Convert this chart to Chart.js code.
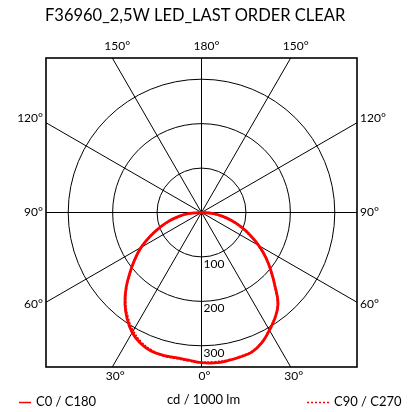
<!DOCTYPE html>
<html>
<head>
<meta charset="utf-8">
<script src="https://cdn.jsdelivr.net/npm/chart.js@4"></script>
<style>
  html, body { margin: 0; padding: 0; background: #fff; }
  canvas { display: block; }
</style>
</head>
<body>
<canvas id="polar" width="415" height="412"></canvas>
<script>
// gamma angles (deg from nadir), intensities in cd / 1000 lm
const gammas = [0, 5, 10, 15, 20, 25, 30, 35, 40, 45, 50, 55, 60, 65, 70, 75, 80, 85, 90];
const c0   = [340, 340, 339, 337, 334, 323, 306, 289, 268, 234, 204, 177, 149, 121, 95, 70, 47, 24, 0];
const c180 = [338, 334, 332, 333, 332, 325, 312, 292, 268, 240, 210, 183, 157, 128, 101, 77, 53, 30, 0];
const c90  = [339, 338, 338, 336, 333, 322, 305, 288, 267, 233, 203, 176, 148, 120, 94, 69, 46, 23, 0];
const c270 = [338, 335, 333, 334, 330, 322, 308, 289, 266, 239, 209, 182, 156, 127, 100, 76, 52, 29, 0];

const rings = [100, 200, 300];
const spokeAngles = [0, 30, 60, 90, 120, 150, 180, 210, 240, 270, 300, 330];
const topLabels = ["150°", "180°", "150°"];
const sideLabels = ["120°", "90°", "60°"];
const bottomLabels = ["30°", "0°", "30°"];
const title = "F36960_2,5W LED_LAST ORDER CLEAR";
const unitLabel = "cd / 1000 lm";
const legendLabels = ["C0 / C180", "C90 / C270"];

const FONT = "Lato, 'Open Sans', sans-serif";
const RED = "#ff0000";

// right half uses +gamma, left half uses -gamma
function toXY(rightVals, leftVals){
  const pts = [];
  for(let i = leftVals.length - 1; i >= 0; i--){
    const a = gammas[i] * Math.PI / 180;
    pts.push({x: -leftVals[i] * Math.sin(a), y: -leftVals[i] * Math.cos(a)});
  }
  for(let i = 1; i < rightVals.length; i++){
    const a = gammas[i] * Math.PI / 180;
    pts.push({x: rightVals[i] * Math.sin(a), y: -rightVals[i] * Math.cos(a)});
  }
  return pts;
}

// grid, box and all text drawn through the scales
const polarGrid = {
  id: "polarGrid",
  beforeDatasetsDraw(chart){
    const {ctx, chartArea: ca, scales: {x, y}} = chart;
    const cx = x.getPixelForValue(0), cy = y.getPixelForValue(0);
    const k = x.getPixelForValue(100) - cx; // px per 100 cd
    ctx.save();
    ctx.strokeStyle = "#000";
    ctx.lineWidth = 1;
    ctx.beginPath(); ctx.rect(ca.left, ca.top, ca.width, ca.height); ctx.clip();
    rings.forEach(r => {
      ctx.beginPath(); ctx.arc(cx, cy, k * r / 100, 0, 2 * Math.PI); ctx.stroke();
    });
    const far = 2000;
    spokeAngles.forEach(d => {
      const a = d * Math.PI / 180;
      ctx.beginPath(); ctx.moveTo(cx, cy);
      ctx.lineTo(cx + far * Math.sin(a), cy + far * Math.cos(a)); ctx.stroke();
    });
    ctx.restore();

    ctx.save();
    ctx.fillStyle = "#000";
    ctx.font = "12px " + FONT;
    ctx.textBaseline = "middle";
    ctx.textAlign = "left";
    rings.forEach(r => ctx.fillText(String(r), cx + 2, cy + k * r / 100 + 7));

    const t30 = Math.tan(Math.PI / 6);
    const hw = ca.width / 2, hh = ca.height / 2;
    ctx.textAlign = "center";
    [-1, 0, 1].forEach((s, i) => {
      ctx.fillText(topLabels[i], cx + s * hh * t30 + 5, ca.top - 12);
      ctx.fillText(bottomLabels[i], cx + s * hh * t30 + 3, ca.bottom + 9);
    });
    [-1, 0, 1].forEach((s, i) => {
      const yy = cy + s * hw * t30 + (s < 0 ? -5 : s > 0 ? 2 : 0);
      ctx.textAlign = "right"; ctx.fillText(sideLabels[i], ca.left - 3, yy);
      ctx.textAlign = "left"; ctx.fillText(sideLabels[i], ca.right + 3, yy);
    });

    ctx.font = "16.5px " + FONT;
    ctx.textAlign = "left";
    ctx.fillText(title, 45, 16);

    ctx.font = "13px " + FONT;
    ctx.textAlign = "center";
    ctx.fillText(unitLabel, cx + 2, 400);
    ctx.textAlign = "left";
    ctx.fillText(legendLabels[0], 36, 402);
    ctx.fillText(legendLabels[1], 334, 402);
    ctx.strokeStyle = RED; ctx.lineWidth = 1.5;
    ctx.beginPath(); ctx.moveTo(19, 402.5); ctx.lineTo(31, 402.5); ctx.stroke();
    ctx.setLineDash([2, 2]);
    ctx.beginPath(); ctx.moveTo(307, 402.5); ctx.lineTo(331, 402.5); ctx.stroke();
    ctx.restore();
  },
  afterDatasetsDraw(chart){
    const {ctx, chartArea: ca} = chart;
    ctx.save();
    ctx.strokeStyle = "#000"; ctx.lineWidth = 1.6;
    ctx.strokeRect(ca.left, ca.top, ca.width, ca.height);
    ctx.restore();
  }
};

new Chart(document.getElementById("polar"), {
  type: "scatter",
  data: {
    datasets: [
      {label: legendLabels[1], data: toXY(c90, c270), showLine: true, borderColor: RED, borderWidth: 2.2, borderDash: [2, 1.5], pointRadius: 0, tension: 0.4},
      {label: legendLabels[0], data: toXY(c0, c180), showLine: true, borderColor: RED, borderWidth: 2.8, pointRadius: 0, tension: 0.4}
    ]
  },
  options: {
    responsive: false,
    animation: false,
    layout: {padding: {left: 46, right: 58, top: 58, bottom: 45}},
    scales: {
      x: {type: "linear", min: -350, max: 350, display: false},
      y: {type: "linear", min: -348, max: 348, display: false}
    },
    plugins: {legend: {display: false}, tooltip: {enabled: false}}
  },
  plugins: [polarGrid]
});
</script>
</body>
</html>
